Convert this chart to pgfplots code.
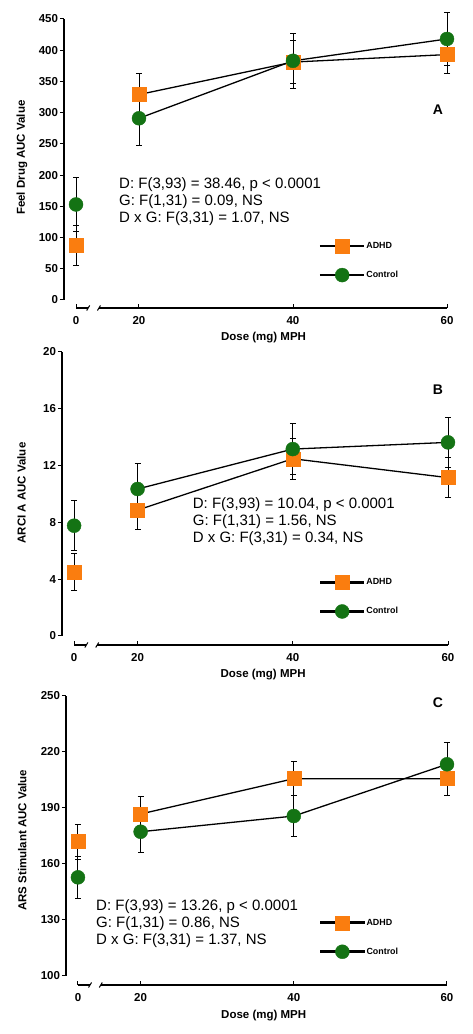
\documentclass[border=0pt]{standalone}
\usepackage{fontspec}
\setmainfont{Liberation Sans}
\usepackage{pgfplots}
\pgfplotsset{compat=1.18}
\definecolor{adhd}{RGB}{250,125,15}
\definecolor{ctrl}{RGB}{20,115,20}
\tikzset{axl/.style={black, line width=1.3pt}, brk/.style={black, line width=1pt}, lgl/.style={black, line width=1.4pt}}
\pgfplotsset{
  panel/.style={
    scale only axis, clip=false, anchor=south west,
    xmin=10.26, xmax=60,
    axis line style={draw=none},
    xtick={11.82,20,40,60}, xticklabels={0,20,40,60},
    xtick pos=bottom, ytick pos=left,
    tick align=outside, major tick length=4pt,
    tick style={black, line width=1pt},
    major x tick style={yshift=4pt},
    /pgf/number format/assume math mode=true,
    ticklabel style={font=\fontsize{11.5}{12}\selectfont\bfseries},
    xticklabel style={yshift=-1pt},
    yticklabel style={xshift=1.5pt},
    label style={font=\fontsize{11.5}{12}\selectfont\bfseries},
    ylabel style={rotate=0, anchor=center},
    xlabel={Dose (mg) MPH},
    xlabel style={anchor=center},
    legend style={draw=none, fill=none, anchor=west, inner sep=0pt,
      font=\fontsize{8.9}{10}\selectfont\bfseries, row sep=15pt,
      nodes={fill=none, inner sep=2pt},
      legend cell align=left},
    legend image code/.code={%
      \path (-21.5pt,-0.65pt) rectangle (21.5pt,0.65pt);
      \draw[#1] plot coordinates {(0pt,0pt)};},
  },
  ebars/.style={
    error bars/y dir=both, error bars/y explicit,
    error bars/error bar style={black, line width=0.9pt},
    error bars/error mark options={rotate=90, black, line width=0.9pt, mark size=3pt}},
  adhdst/.style={draw=black, line width=1.3pt, mark=square*, mark size=7pt,
    mark options={fill=adhd, draw=adhd, line width=0.4pt, solid}, ebars},
  ctrlst/.style={draw=black, line width=1.3pt, mark=*, mark size=7pt,
    mark options={fill=ctrl, draw=ctrl, line width=0.4pt, solid}, ebars},
}
\begin{document}
\begin{tikzpicture}
\useasboundingbox (0,0) rectangle (473pt,1034pt);
% ---------------- Panel A
\begin{axis}[panel, at={(64pt,726pt)}, width=383pt, height=289pt,
  ymin=-12.8, ymax=450, ytick={0,50,...,450},
  ylabel={Feel Drug AUC Value},
  ylabel style={at={(axis description cs:-0.1097,0.52)}},
  xlabel style={at={(axis description cs:0.521,-0.104)}},
  legend style={at={(axis description cs:0.668,0.164)}}]
\draw[lgl] (rel axis cs:0.6684,0.2145) -- (rel axis cs:0.7807,0.2145);
\draw[lgl] (rel axis cs:0.6684,0.1142) -- (rel axis cs:0.7807,0.1142);
\addplot[forget plot, adhdst] coordinates {(11.82,87) +- (0,32)};
\addplot[adhdst] coordinates {(20,329) +- (0,34) (40,381) +- (0,34) (60,393) +- (0,31)};
\addlegendentry{ADHD}
\addplot[forget plot, ctrlst] coordinates {(11.82,153) +- (0,43)};
\addplot[ctrlst] coordinates {(20,291) +- (0,44) (40,383) +- (0,44) (60,418) +- (0,43)};
\addlegendentry{Control}
\draw[axl] (axis cs:10.26,0) -- (axis cs:10.26,450);
\draw[axl] (axis cs:11.82,-12.8) -- (axis cs:13.4,-12.8);
\draw[brk] ([xshift=-1.5pt,yshift=-2.5pt]axis cs:13.4,-12.8) -- ([xshift=1.5pt,yshift=2.5pt]axis cs:13.4,-12.8);
\draw[axl] (axis cs:14.8,-12.8) -- (axis cs:60,-12.8);
\draw[brk] ([xshift=-1.5pt,yshift=-2.5pt]axis cs:14.8,-12.8) -- ([xshift=1.5pt,yshift=2.5pt]axis cs:14.8,-12.8);
\node[anchor=base west, inner sep=0pt, font=\fontsize{15}{17}\selectfont] at (rel axis cs:0.1436,0.414) {D: F(3,93) = 38.46, p < 0.0001};
\node[anchor=base west, inner sep=0pt, font=\fontsize{15}{17}\selectfont] at (rel axis cs:0.1436,0.3543) {G: F(1,31) = 0.09, NS};
\node[anchor=base west, inner sep=0pt, font=\fontsize{15}{17}\selectfont] at (rel axis cs:0.1436,0.2945) {D x G: F(3,31) = 1.07, NS};
\node[font=\fontsize{14}{14}\selectfont\bfseries] at (rel axis cs:0.9765,0.685) {A};
\end{axis}
% ---------------- Panel B
\begin{axis}[panel, at={(62pt,389pt)}, width=386pt, height=293.3pt,
  ymin=-0.633, ymax=20, ytick={0,4,8,12,16,20},
  ylabel={ARCI A AUC Value},
  ylabel style={at={(axis description cs:-0.105,0.518)}},
  xlabel style={at={(axis description cs:0.521,-0.1)}},
  legend style={at={(axis description cs:0.668,0.1637)}}]
\draw[lgl] (rel axis cs:0.6684,0.2138) -- (rel axis cs:0.7798,0.2138);
\draw[lgl] (rel axis cs:0.6684,0.1135) -- (rel axis cs:0.7798,0.1135);
\addplot[forget plot, adhdst] coordinates {(11.82,4.5) +- (0,1.3)};
\addplot[adhdst] coordinates {(20,8.86) +- (0,1.36) (40,12.47) +- (0,1.45) (60,11.14) +- (0,1.4)};
\addlegendentry{ADHD}
\addplot[forget plot, ctrlst] coordinates {(11.82,7.76) +- (0,1.76)};
\addplot[ctrlst] coordinates {(20,10.34) +- (0,1.8) (40,13.15) +- (0,1.8) (60,13.62) +- (0,1.76)};
\addlegendentry{Control}
\draw[axl] (axis cs:10.26,0) -- (axis cs:10.26,20);
\draw[axl] (axis cs:11.82,-0.633) -- (axis cs:13.4,-0.633);
\draw[brk] ([xshift=-1.5pt,yshift=-2.5pt]axis cs:13.4,-0.633) -- ([xshift=1.5pt,yshift=2.5pt]axis cs:13.4,-0.633);
\draw[axl] (axis cs:14.8,-0.633) -- (axis cs:60,-0.633);
\draw[brk] ([xshift=-1.5pt,yshift=-2.5pt]axis cs:14.8,-0.633) -- ([xshift=1.5pt,yshift=2.5pt]axis cs:14.8,-0.633);
\node[anchor=base west, inner sep=0pt, font=\fontsize{15}{17}\selectfont] at (rel axis cs:0.3386,0.466) {D: F(3,93) = 10.04, p < 0.0001};
\node[anchor=base west, inner sep=0pt, font=\fontsize{15}{17}\selectfont] at (rel axis cs:0.3386,0.4068) {G: F(1,31) = 1.56, NS};
\node[anchor=base west, inner sep=0pt, font=\fontsize{15}{17}\selectfont] at (rel axis cs:0.3386,0.3478) {D x G: F(3,31) = 0.34, NS};
\node[font=\fontsize{14}{14}\selectfont\bfseries] at (rel axis cs:0.974,0.872) {B};
\end{axis}
% ---------------- Panel C
\begin{axis}[panel, at={(66pt,49pt)}, width=381pt, height=289.3pt,
  ymin=95.18, ymax=250, ytick={100,130,160,190,220,250},
  ylabel={ARS Stimulant AUC Value},
  ylabel style={at={(axis description cs:-0.115,0.50)}},
  xlabel style={at={(axis description cs:0.519,-0.104)}},
  legend style={at={(axis description cs:0.6667,0.165)}}]
\draw[lgl] (rel axis cs:0.6667,0.2153) -- (rel axis cs:0.7795,0.2153);
\draw[lgl] (rel axis cs:0.6667,0.1141) -- (rel axis cs:0.7795,0.1141);
\addplot[forget plot, adhdst] coordinates {(11.82,171.9) +- (0,9.4)};
\addplot[adhdst] coordinates {(20,186.7) +- (0,9.3) (40,205.6) +- (0,9.1) (60,205.6) +- (0,8.8)};
\addlegendentry{ADHD}
\addplot[forget plot, ctrlst] coordinates {(11.82,152.8) +- (0,11.4)};
\addplot[ctrlst] coordinates {(20,177.2) +- (0,11.2) (40,185.6) +- (0,11.1) (60,213.3) +- (0,11.5)};
\addlegendentry{Control}
\draw[axl] (axis cs:10.26,100) -- (axis cs:10.26,250);
\draw[axl] (axis cs:11.82,95.18) -- (axis cs:13.4,95.18);
\draw[brk] ([xshift=-1.5pt,yshift=-2.5pt]axis cs:13.4,95.18) -- ([xshift=1.5pt,yshift=2.5pt]axis cs:13.4,95.18);
\draw[axl] (axis cs:14.8,95.18) -- (axis cs:60,95.18);
\draw[brk] ([xshift=-1.5pt,yshift=-2.5pt]axis cs:14.8,95.18) -- ([xshift=1.5pt,yshift=2.5pt]axis cs:14.8,95.18);
\node[anchor=base west, inner sep=0pt, font=\fontsize{15}{17}\selectfont] at (rel axis cs:0.0787,0.2592) {D: F(3,93) = 13.26, p < 0.0001};
\node[anchor=base west, inner sep=0pt, font=\fontsize{15}{17}\selectfont] at (rel axis cs:0.0787,0.1994) {G: F(1,31) = 0.86, NS};
\node[anchor=base west, inner sep=0pt, font=\fontsize{15}{17}\selectfont] at (rel axis cs:0.0787,0.1393) {D x G: F(3,31) = 1.37, NS};
\node[font=\fontsize{14}{14}\selectfont\bfseries] at (rel axis cs:0.976,0.976) {C};
\end{axis}
\end{tikzpicture}
\end{document}
